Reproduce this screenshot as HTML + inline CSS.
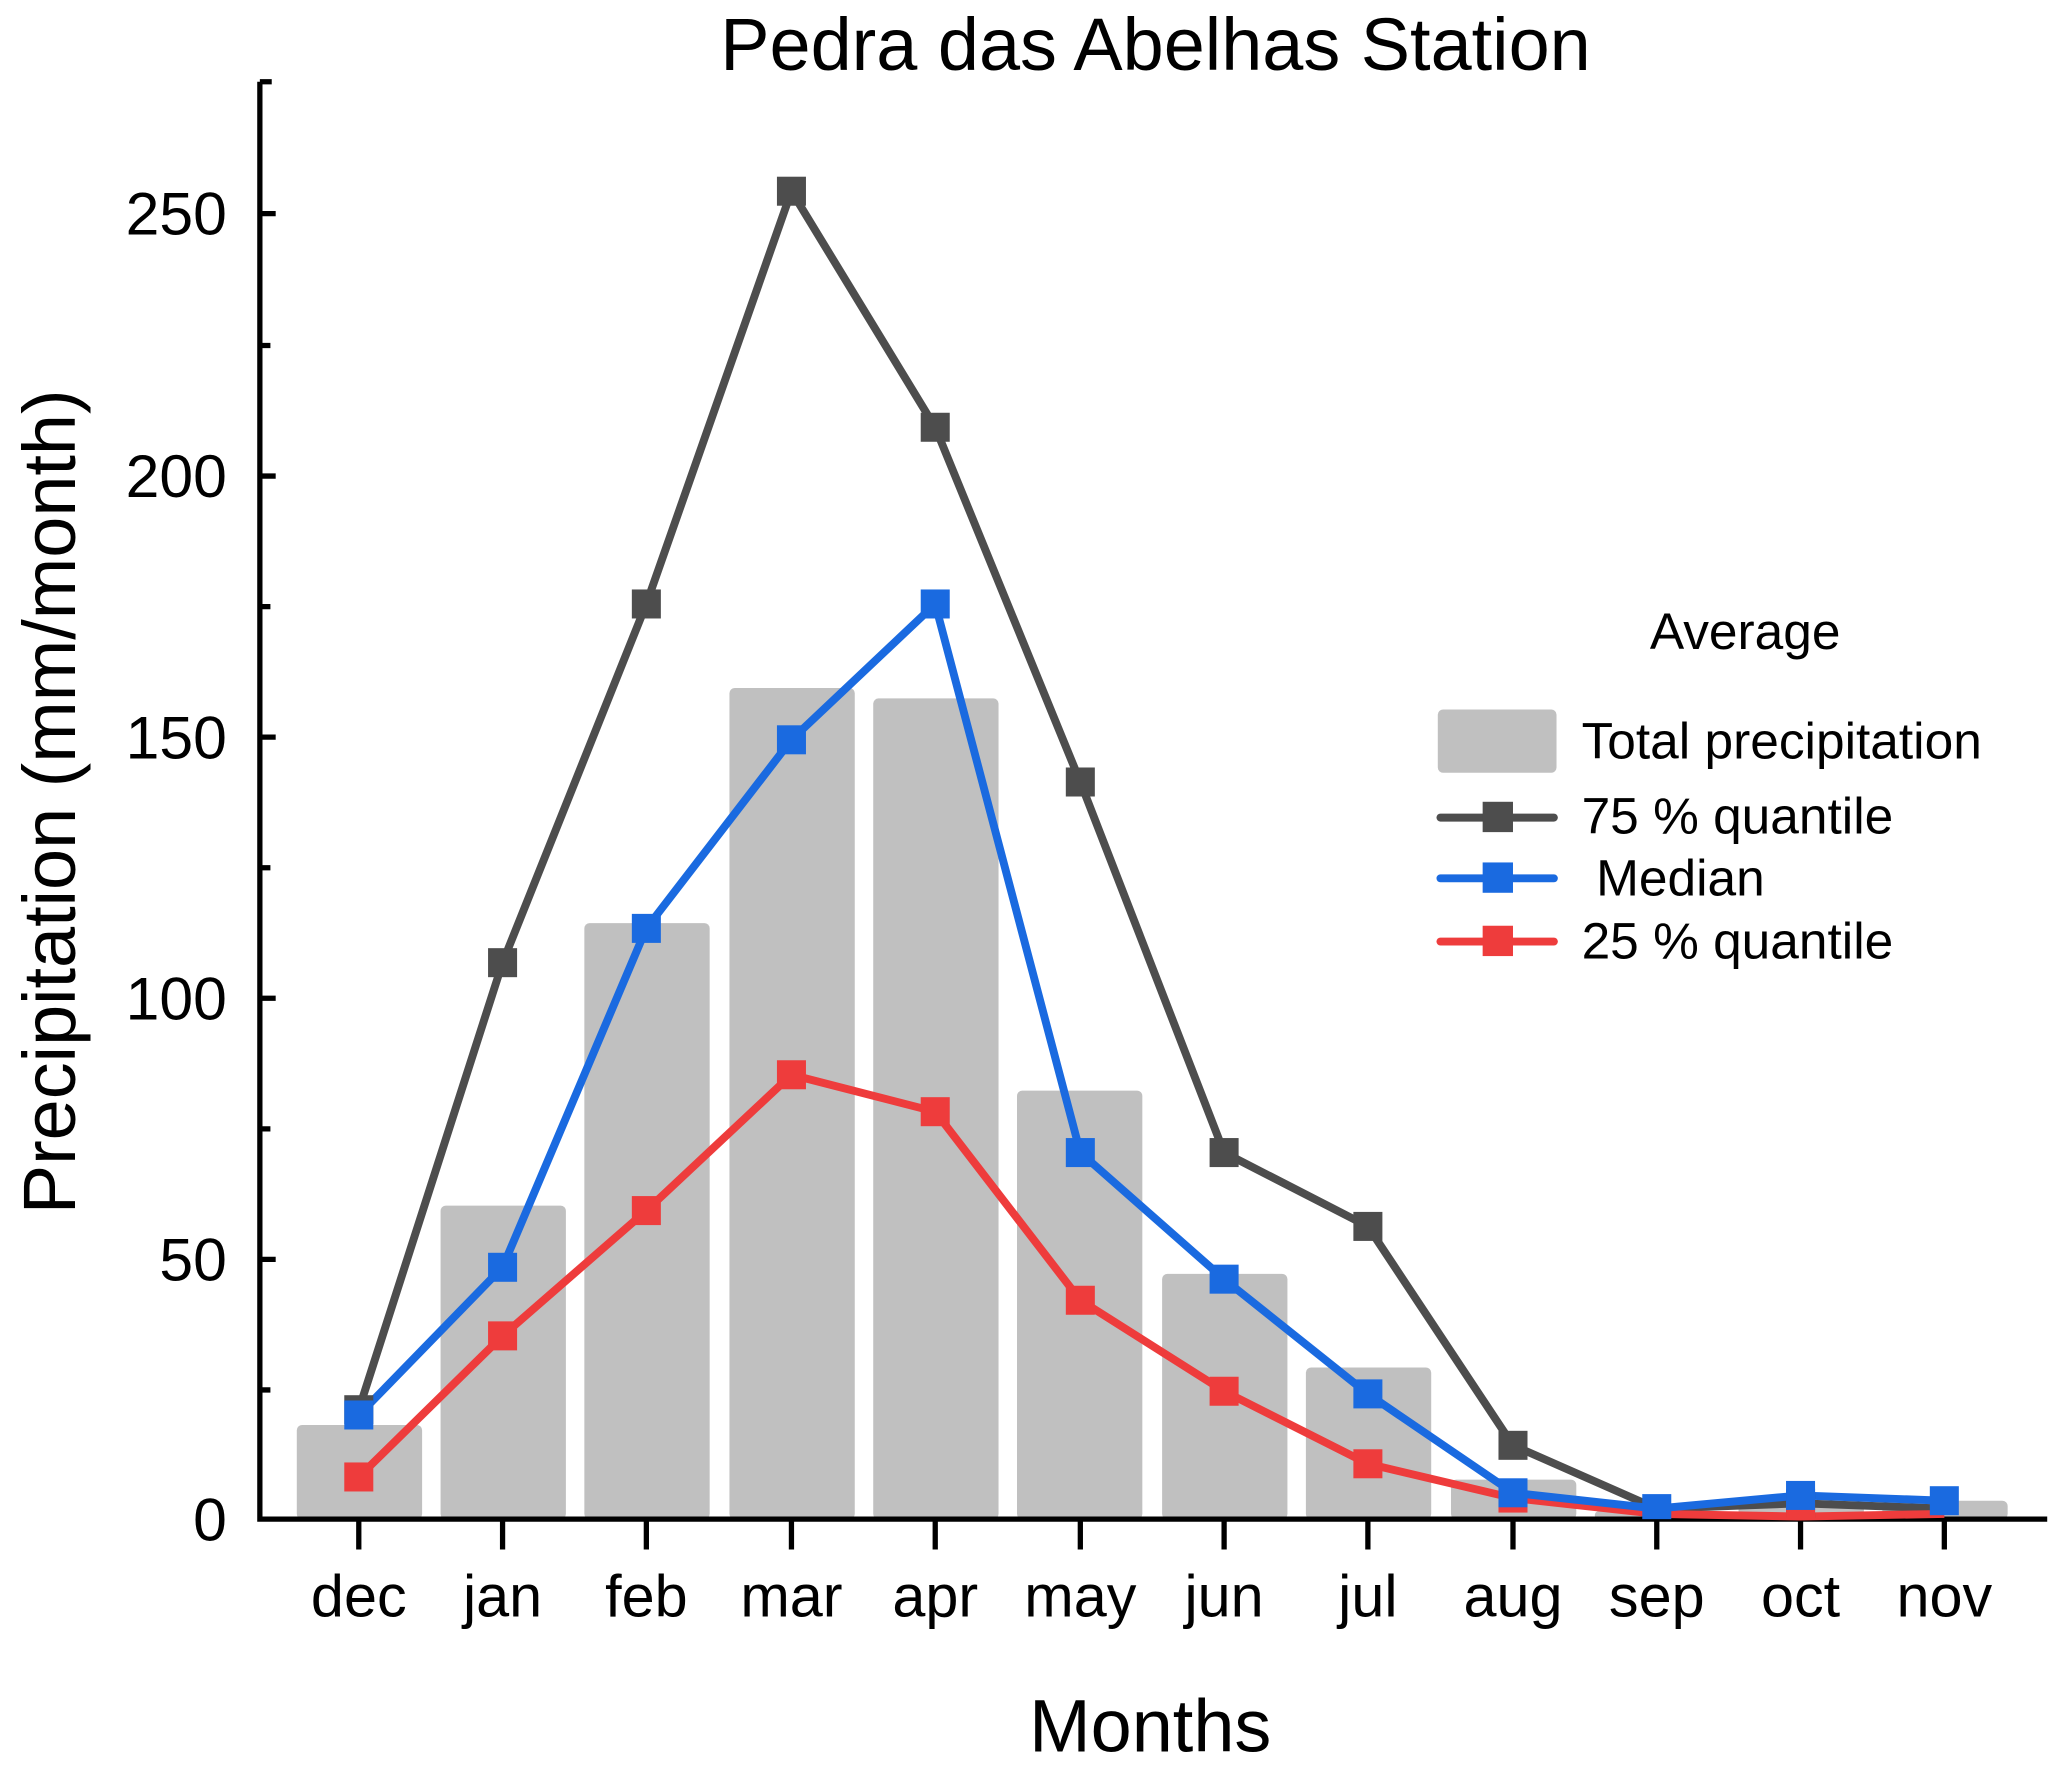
<!DOCTYPE html>
<html><head><meta charset="utf-8"><style>html,body{margin:0;padding:0;background:#fff}svg{display:block}</style></head>
<body>
<svg width="2067" height="1775" viewBox="0 0 1567 1346" preserveAspectRatio="none" xmlns="http://www.w3.org/2000/svg" font-family="Liberation Sans, Arial, sans-serif">
<rect width="1567" height="1346" fill="#fff"/>
<text x="876" y="53" font-size="56" text-anchor="middle">Pedra das Abelhas Station</text>
<g fill="#c0c0c0">
<rect x="225" y="1080.6" width="95" height="71.4" rx="4"/>
<rect x="334" y="914.2" width="95" height="237.8" rx="4"/>
<rect x="443" y="700" width="95" height="452" rx="4"/>
<rect x="553" y="521.7" width="95" height="630.3" rx="4"/>
<rect x="662" y="529.6" width="95" height="622.4" rx="4"/>
<rect x="771" y="827" width="95" height="325" rx="4"/>
<rect x="881" y="966" width="95" height="186" rx="4"/>
<rect x="990" y="1037" width="95" height="115" rx="4"/>
<rect x="1100" y="1122" width="95" height="30" rx="4"/>
<rect x="1209" y="1146" width="95" height="6" rx="3"/>
<rect x="1318" y="1140" width="95" height="12" rx="4"/>
<rect x="1427" y="1138" width="95" height="14" rx="4"/>
</g>
<g stroke="#000" stroke-width="4" fill="none">
<path d="M197 62 H206 M197 62 V1152 H1552"/>
<path d="M197 162H209 M197 361H209 M197 559H209 M197 757H209 M197 955H209"/>
<path d="M197 262H205 M197 460H205 M197 658H205 M197 856H205 M197 1054H205"/>
<path d="M272 1152V1175 M381 1152V1175 M490 1152V1175 M600 1152V1175 M709 1152V1175 M819 1152V1175 M928 1152V1175 M1037 1152V1175 M1147 1152V1175 M1256 1152V1175 M1365 1152V1175 M1474 1152V1175"/>
</g>
<g font-size="46" text-anchor="end">
<text x="172" y="1168">0</text><text x="172" y="971">50</text><text x="172" y="773">100</text><text x="172" y="575">150</text><text x="172" y="377">200</text><text x="172" y="178">250</text>
</g>
<g font-size="45" text-anchor="middle">
<text x="272" y="1226">dec</text><text x="381" y="1226">jan</text><text x="490" y="1226">feb</text><text x="600" y="1226">mar</text><text x="709" y="1226">apr</text><text x="819" y="1226">may</text><text x="928" y="1226">jun</text><text x="1037" y="1226">jul</text><text x="1147" y="1226">aug</text><text x="1256" y="1226">sep</text><text x="1365" y="1226">oct</text><text x="1474" y="1226">nov</text>
</g>
<text x="872" y="1328" font-size="56" text-anchor="middle">Months</text>
<text transform="translate(57,608) rotate(-90)" font-size="56" text-anchor="middle">Precipitation (mm/month)</text>
<g fill="none" stroke-width="6" stroke-linejoin="round">
<polyline stroke="#4d4d4d" points="272,1069 381,730 490,458 600,145 709,324 819,593 928,874 1037,930 1147,1096 1256,1144 1365,1140 1474,1144"/>
<polyline stroke="#ee3c3c" points="272,1120 381,1013 490,918 600,815 709,843 819,986 928,1055 1037,1110 1147,1136 1256,1148 1365,1150 1474,1148"/>
<polyline stroke="#1a6ae0" points="272,1073 381,961 490,704 600,561 709,458 819,874 928,970 1037,1057 1147,1132 1256,1144 1365,1134 1474,1138"/>
</g>
<g fill="#4d4d4d"><rect x="261" y="1058" width="22" height="22"/><rect x="370" y="719" width="22" height="22"/><rect x="479" y="447" width="22" height="22"/><rect x="589" y="134" width="22" height="22"/><rect x="698" y="313" width="22" height="22"/><rect x="808" y="582" width="22" height="22"/><rect x="917" y="863" width="22" height="22"/><rect x="1026" y="919" width="22" height="22"/><rect x="1136" y="1085" width="22" height="22"/><rect x="1354" y="1129" width="22" height="22"/></g>
<g fill="#ee3c3c"><rect x="261" y="1109" width="22" height="22"/><rect x="370" y="1002" width="22" height="22"/><rect x="479" y="907" width="22" height="22"/><rect x="589" y="804" width="22" height="22"/><rect x="698" y="832" width="22" height="22"/><rect x="808" y="975" width="22" height="22"/><rect x="917" y="1044" width="22" height="22"/><rect x="1026" y="1099" width="22" height="22"/><rect x="1136" y="1125" width="22" height="22"/><rect x="1354" y="1139" width="22" height="13"/></g>
<g fill="#1a6ae0"><rect x="261" y="1062" width="22" height="22"/><rect x="370" y="950" width="22" height="22"/><rect x="479" y="693" width="22" height="22"/><rect x="589" y="550" width="22" height="22"/><rect x="698" y="447" width="22" height="22"/><rect x="808" y="863" width="22" height="22"/><rect x="917" y="959" width="22" height="22"/><rect x="1026" y="1046" width="22" height="22"/><rect x="1136" y="1121" width="22" height="22"/><rect x="1245" y="1133" width="22" height="19"/><rect x="1354" y="1123" width="22" height="22"/><rect x="1463" y="1127" width="22" height="22"/></g>
<text x="1323" y="492" font-size="39" text-anchor="middle">Average</text>
<rect x="1090" y="538" width="90" height="48" rx="4" fill="#c0c0c0"/>
<g font-size="39">
<text x="1199" y="575">Total precipitation</text>
<text x="1199" y="632">75 % quantile</text>
<text x="1210" y="679">Median</text>
<text x="1199" y="727">25 % quantile</text>
</g>
<g stroke-width="6" stroke-linecap="round">
<line x1="1092" y1="620" x2="1178" y2="620" stroke="#4d4d4d"/>
<line x1="1092" y1="666" x2="1178" y2="666" stroke="#1a6ae0"/>
<line x1="1092" y1="714" x2="1178" y2="714" stroke="#ee3c3c"/>
</g>
<rect x="1124" y="608" width="23" height="23" fill="#4d4d4d"/>
<rect x="1124" y="654" width="23" height="23" fill="#1a6ae0"/>
<rect x="1124" y="702" width="23" height="23" fill="#ee3c3c"/>
</svg>
</body></html>
